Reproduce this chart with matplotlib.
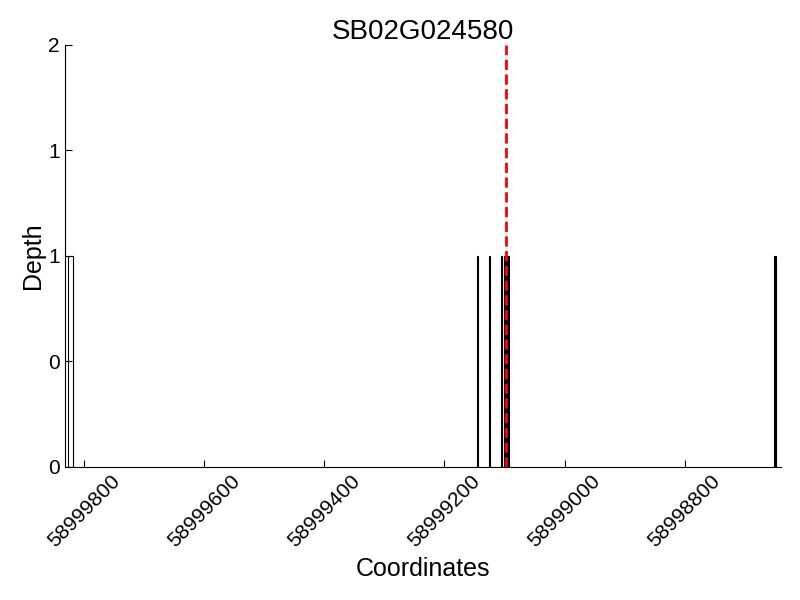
import numpy as np
import matplotlib
matplotlib.use('Agg')
import matplotlib.pyplot as plt
from matplotlib.ticker import FormatStrFormatter

plt.rcParams['font.family'] = ['Liberation Sans', 'DejaVu Sans']

gene = 'SB02G024580'
# coverage intervals (start, width) and depth
bar_start = [58999826, 58999145, 58999125, 58999105, 58999100, 58998652]
bar_width = [-7, -0.5, -0.5, -0.5, -8, -4]
bar_depth = [1, 1, 1, 1, 1, 1]
bar_fill = ['white', 'white', 'white', 'white', 'black', 'black']
marker_pos = 58999097
xlim = (58999832, 58998640)
xticks = [58999800, 58999600, 58999400, 58999200, 58999000, 58998800]

fig = plt.figure(figsize=(8, 6), dpi=100)
ax = fig.add_axes([0.081, 0.222, 0.895, 0.703])
ax.bar(bar_start, bar_depth, width=bar_width, align='edge',
       color=bar_fill, edgecolor='black', linewidth=0.8)
ax.axvline(marker_pos, color='red', linestyle='--', linewidth=2)

ax.set_xlim(*xlim)
ax.set_ylim(0, 2)
ax.set_xticks(xticks)
ax.set_yticks([0, 0.5, 1, 1.5, 2])
ax.yaxis.set_major_formatter(FormatStrFormatter('%d'))
ax.xaxis.set_major_formatter(FormatStrFormatter('%d'))
ax.spines['top'].set_visible(False)
ax.spines['right'].set_visible(False)
ax.tick_params(direction='in', labelsize=15, length=5)
plt.setp(ax.get_xticklabels(), rotation=45, ha='center')
ax.set_xlabel('Coordinates', fontsize=18, labelpad=4)
ax.set_ylabel('Depth', fontsize=18, labelpad=2)
ax.set_title(gene, fontsize=20, pad=4)
fig.savefig('out.png')
